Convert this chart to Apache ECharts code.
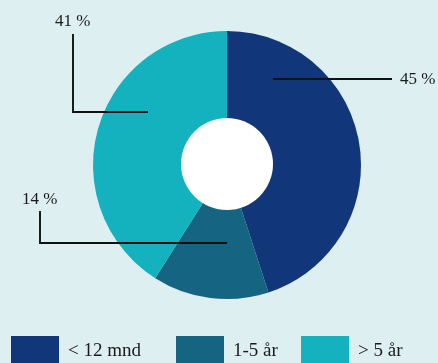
<!DOCTYPE html>
<html>
<head>
<meta charset="utf-8">
<script src="https://cdn.jsdelivr.net/npm/echarts@6/dist/echarts.min.js"></script>
<style>
html,body{margin:0;padding:0;background:#deeff2;}
#c{width:438px;height:363px;}
</style>
</head>
<body>
<div id="c"></div>
<script>
const categories = ['< 12 mnd', '1-5 år', '> 5 år'];
const values = [45, 14, 41];
const valueLabels = ['45 %', '14 %', '41 %'];
const colors = ['#11367a', '#156482', '#14b1bf'];

const labelLayouts = [
  { x: 400, y: 80, line: [[273, 79], [392, 79]] },
  { x: 22, y: 200, line: [[227, 243], [40, 243], [40, 211]] },
  { x: 55, y: 22, line: [[148, 112], [73, 112], [73, 34]] }
];
const legendLefts = [11, 176, 301];

const chart = echarts.init(document.getElementById('c'));
const option = {
  backgroundColor: '#deeff2',
  animation: false,
  legend: categories.map((c, i) => ({
    data: [c],
    left: legendLefts[i],
    top: 336,
    padding: 0,
    itemWidth: 48,
    itemHeight: 30,
    icon: 'rect',
    selectedMode: false,
    textStyle: { fontFamily: 'Liberation Serif', fontSize: 19, color: '#1a1a1a', padding: [0, 0, 0, 4] }
  })),
  graphic: labelLayouts.map(l => ({
    type: 'polyline',
    z: 100,
    silent: true,
    shape: { points: l.line },
    style: { stroke: '#111', lineWidth: 1.9, fill: null }
  })),
  series: [
    {
      type: 'pie',
      center: [227, 165],
      radius: [0, 134],
      startAngle: 90,
      clockwise: true,
      silent: true,
      z: 2,
      data: categories.map((c, i) => ({ name: c, value: values[i], itemStyle: { color: colors[i] } })),
      label: {
        show: true,
        formatter: p => valueLabels[p.dataIndex],
        fontFamily: 'Liberation Serif',
        fontSize: 17,
        color: '#1a1a1a',
        overflow: 'none'
      },
      labelLine: { show: false },
      labelLayout: p => {
        const l = labelLayouts[p.dataIndex];
        return { x: l.x, y: l.y, align: 'left', verticalAlign: 'middle', width: 60 };
      }
    },
    {
      type: 'pie',
      center: [227, 164],
      radius: [0, 46],
      silent: true,
      z: 5,
      label: { show: false },
      labelLine: { show: false },
      data: [{ name: '', value: 1, itemStyle: { color: '#ffffff' } }]
    }
  ]
};
chart.setOption(option);
</script>
</body>
</html>
